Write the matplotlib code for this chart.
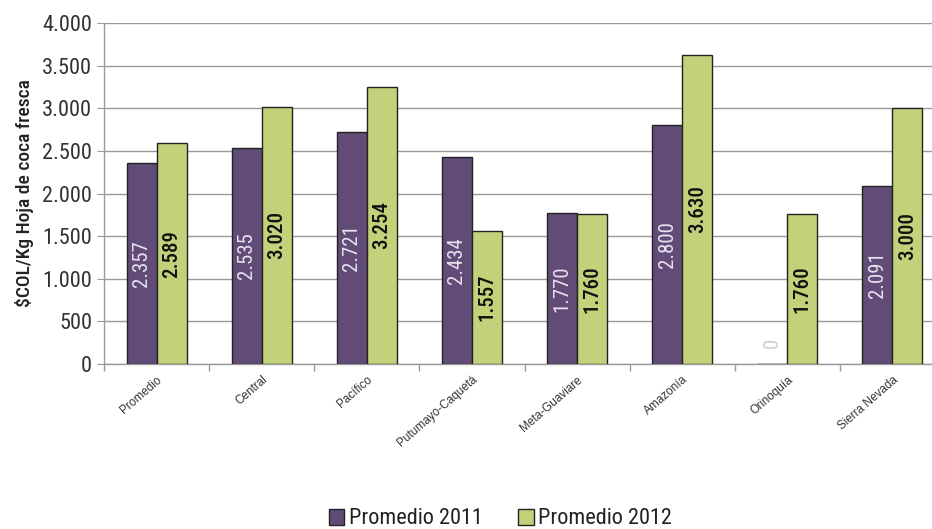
import numpy as np
from matplotlib import pyplot as plt
from matplotlib.patches import Patch
from matplotlib.ticker import FixedLocator, FuncFormatter

regiones = ['Promedio', 'Central', 'Pacífico', 'Putumayo-Caquetá', 'Meta-Guaviare',
            'Amazonía', 'Orinoquía', 'Sierra Nevada']
prom_2011 = [2357, 2535, 2721, 2434, 1770, 2800, 0, 2091]
prom_2012 = [2589, 3020, 3254, 1557, 1760, 3630, 1760, 3000]

c11 = '#624c77'
c12 = '#c3d17a'
narrow = ['Roboto Condensed', 'PT Sans Narrow', 'Archivo Narrow', 'DejaVu Sans']

def miles(v, pos=None):
    return f'{int(v):,}'.replace(',', '.')

fig = plt.figure(figsize=(9.32, 5.29), dpi=100)
ax = fig.add_axes([104/932, 165/529, 841/932, 341/529])

x = np.arange(len(regiones))
w = 0.285
b1 = ax.bar(x - w/2, prom_2011, w, color=c11, edgecolor='#222222', linewidth=1, zorder=3)
b2 = ax.bar(x + w/2, prom_2012, w, color=c12, edgecolor='#222222', linewidth=1, zorder=3)

for rect, v in zip(b1, prom_2011):
    cx = rect.get_x() + rect.get_width()/2
    if v == 0:
        ax.text(cx, 250, '0', rotation=90, ha='center', va='center', color='#d0d0d0',
                fontsize=15, family=narrow, zorder=4)
    else:
        ax.text(cx, v/2, miles(v), rotation=90, ha='center', va='center', color='#e6e2ee',
                fontsize=15, family=narrow, zorder=4)
for rect, v in zip(b2, prom_2012):
    cx = rect.get_x() + rect.get_width()/2
    ax.text(cx, v/2, miles(v), rotation=90, ha='center', va='center', color='#111111',
            fontsize=15, family=narrow, fontweight='medium', zorder=4)

ax.set_xlim(-0.5, 7.5)
ax.set_ylim(0, 4000)
ax.set_yticks(np.arange(0, 4001, 500))
ax.yaxis.set_major_formatter(FuncFormatter(miles))
ax.grid(axis='y', color='#9a9a9a', linewidth=1, zorder=0)
ax.set_axisbelow(True)

ax.set_xticks(x)
ax.set_xticklabels(regiones, rotation=41, ha='right', va='top', rotation_mode='anchor',
                   fontsize=8.5, color='#333333', family=['Liberation Sans', 'DejaVu Sans'])
ax.tick_params(axis='x', which='major', length=0, pad=7)
ax.xaxis.set_minor_locator(FixedLocator(np.arange(-0.5, 7.6, 1)))
ax.tick_params(axis='x', which='minor', length=5, color='#9a9a9a', width=1)
ax.tick_params(axis='y', length=5, color='#9a9a9a', labelsize=16, labelcolor='#333333')
for lab in ax.get_yticklabels():
    lab.set_family(narrow)

for s in ['top', 'right']:
    ax.spines[s].set_visible(False)
for s in ['left', 'bottom']:
    ax.spines[s].set_color('#9a9a9a')
    ax.spines[s].set_linewidth(1)

ax.set_ylabel('\\$COL/Kg Hoja de coca fresca', fontsize=14, family=narrow,
              fontweight='medium', color='#222222', labelpad=6)

handles = [Patch(facecolor=c11, edgecolor='#222222', label='Promedio 2011'),
           Patch(facecolor=c12, edgecolor='#222222', label='Promedio 2012')]
fig.legend(handles=handles, loc='center', bbox_to_anchor=(0.537, 10/529), ncol=2, frameon=False,
           prop={'family': narrow, 'size': 16}, handlelength=0.7, handleheight=0.7,
           handletextpad=0.2, columnspacing=1.6, labelcolor='#222222')

fig.savefig('out.png', dpi=100)
